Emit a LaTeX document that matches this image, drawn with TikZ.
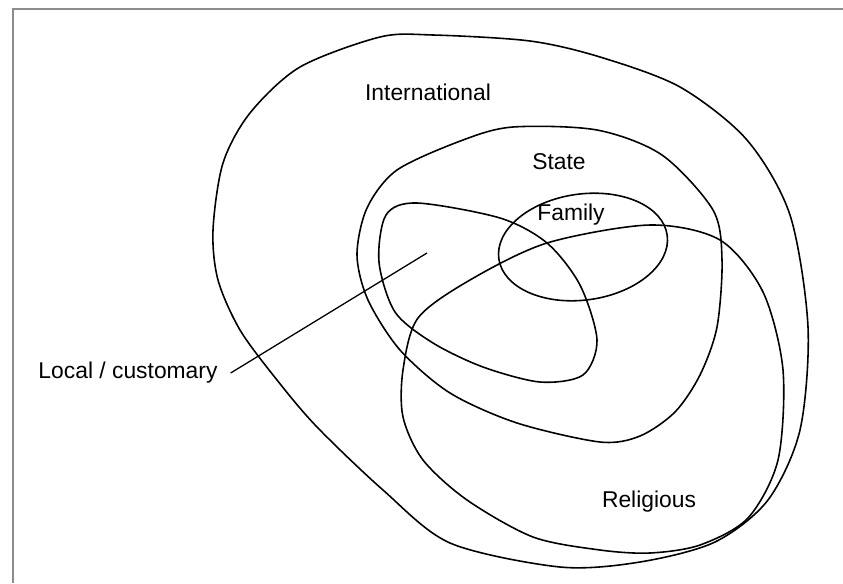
\documentclass[tikz,border=0pt]{standalone}
\usepackage{fontspec}
\setmainfont{Liberation Sans}
\tikzset{
    region/.style = {draw=black, line width=1.35pt},
    region-label/.style = {font=\fontsize{19.5}{23}\selectfont, inner sep=1pt},
    frame-line/.style = {draw=black!45, line width=1.7pt},
}

\begin{document}
\begin{tikzpicture}[x=0.03cm, y=-0.03cm]
\useasboundingbox (0,0) rectangle (843,583);
\draw[frame-line] (13,583) -- (13,9) -- (843,9);

% international
\draw[region] plot[smooth cycle] coordinates {(433,35) (530,41) (600,57) (680,87) (747,140) (790,215) (808,327) (800,430) (768,500) (715,542) (640,562) (560,567) (450,543) (383,490) (317,427) (277,380) (240,330) (218,280) (213,230) (223,163) (250,113) (300,67) (380,37)};
% state
\draw[region] plot[smooth cycle] coordinates {(513,127) (597,130) (662,155) (713,210) (722,260) (717,327) (700,375) (675,412) (640,436) (600,442) (517,423) (450,393) (400,350) (368,300) (357,255) (367,208) (397,170) (463,140)};
% local / customary
\draw[region] plot[smooth cycle] coordinates {(417,203) (500,218) (547,243) (580,285) (597,340) (583,375) (540,382) (483,367) (433,343) (395,312) (379,262) (386,215)};
% religious
\draw[region] plot[smooth cycle] coordinates {(403,370) (418,318) (470,280) (547,243) (650,225) (720,240) (763,292) (783,370) (778,460) (748,518) (700,545) (650,553) (600,550) (533,537) (467,500) (423,460) (403,417)};
% family
\draw[region, rotate around={8:(583,247)}] (583,247) ellipse [x radius=85, y radius=53];

\node[region-label] (international) at (428,92) {International};
\node[region-label] (state) at (559,162) {State};
\node[region-label] (family) at (571,215) {Family};
\node[region-label] (religious) at (649,502) {Religious};
\node[region-label] (local) at (128,373) {Local / customary};
\coordinate (local-tip) at (427,253);
\draw[region, line width=1.1pt] ([xshift=10pt]local.east) -- (local-tip);
\end{tikzpicture}
\end{document}
